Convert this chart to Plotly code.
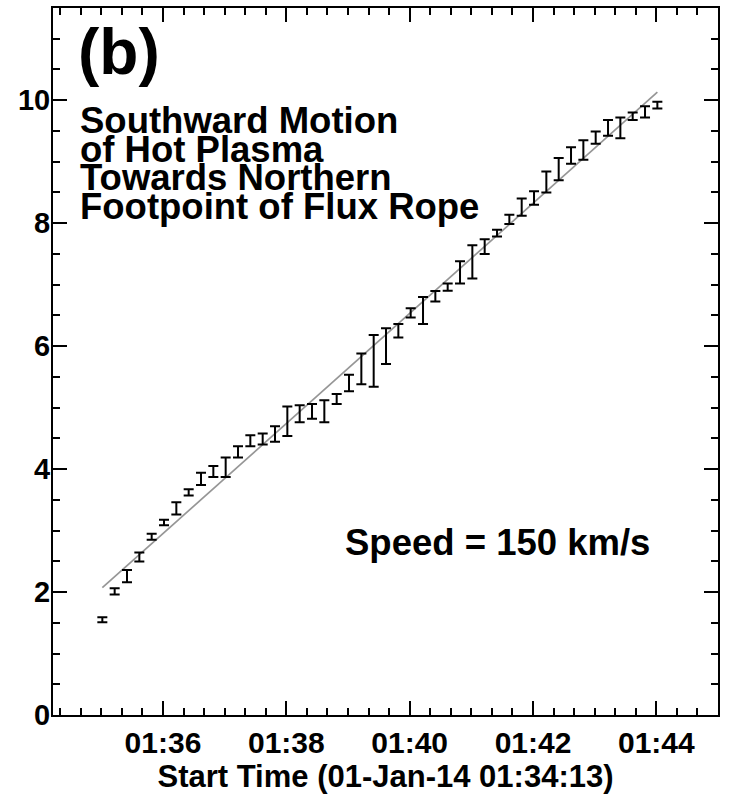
import plotly.graph_objects as go
from datetime import datetime, timedelta

START = datetime(2014, 1, 1, 1, 34, 13)

# seconds after start time (12 s cadence)
t_sec = [48, 60, 72, 84, 96, 108, 120, 132, 144, 156,
         168, 180, 192, 204, 216, 228, 240, 252, 264, 276,
         288, 300, 312, 324, 336, 348, 360, 372, 384, 396,
         408, 420, 432, 444, 456, 468, 480, 492, 504, 516,
         528, 540, 552, 564, 576, 588]
dist = [1.55, 2.01, 2.26, 2.57, 2.90, 3.13, 3.36, 3.62, 3.84, 3.96,
        4.03, 4.28, 4.46, 4.49, 4.57, 4.78, 4.90, 4.94, 4.94, 5.14,
        5.40, 5.63, 5.76, 6.00, 6.25, 6.54, 6.58, 6.81, 6.96, 7.20,
        7.37, 7.62, 7.84, 8.06, 8.26, 8.41, 8.67, 8.88, 9.10, 9.19,
        9.39, 9.55, 9.55, 9.74, 9.81, 9.92]
err = [0.04, 0.05, 0.10, 0.075, 0.05, 0.045, 0.10, 0.05, 0.10, 0.09,
       0.16, 0.09, 0.09, 0.09, 0.125, 0.24, 0.14, 0.12, 0.18, 0.08,
       0.135, 0.25, 0.42, 0.29, 0.11, 0.075, 0.22, 0.085, 0.06, 0.18,
       0.27, 0.12, 0.055, 0.075, 0.14, 0.11, 0.17, 0.18, 0.135, 0.16,
       0.10, 0.13, 0.17, 0.06, 0.09, 0.055]

fit_t = [48, 588]
fit_d = [2.07, 10.13]

x_range_sec = [0, 647]
y_range = [0, 11.5]

def to_time(s):
    return (START + timedelta(seconds=s)).strftime("%Y-%m-%d %H:%M:%S")

FONT = "Liberation Sans, Arial, sans-serif"

fig = go.Figure()
fig.add_trace(go.Scatter(
    x=[to_time(s) for s in fit_t], y=fit_d, mode="lines",
    line=dict(color="#969696", width=1.7), showlegend=False, hoverinfo="skip"))
fig.add_trace(go.Scatter(
    x=[to_time(s) for s in t_sec], y=dist, mode="markers",
    marker=dict(size=1, color="rgba(0,0,0,0)"),
    error_y=dict(type="data", array=err, visible=True, color="black",
                 thickness=2, width=5),
    showlegend=False))

axis_common = dict(
    showgrid=False, zeroline=False, showline=True, linecolor="black", linewidth=2,
    mirror="ticks", ticks="inside", tickcolor="black", tickwidth=2,
    automargin=False,
)

fig.update_xaxes(
    type="date",
    range=[to_time(x_range_sec[0]), to_time(x_range_sec[1])],
    tick0="2014-01-01 01:36:00", dtick=120000, tickformat="%H:%M", ticklen=14,
    minor=dict(dtick=20000, tick0="2014-01-01 01:36:00", ticks="inside",
               ticklen=7, tickcolor="black", tickwidth=2, showgrid=False),
    title=dict(text="Start Time (01-Jan-14 01:34:13)",
               font=dict(family=FONT, size=31, color="black", weight="bold"),
               standoff=0),
    tickfont=dict(family=FONT, size=30, color="black", weight="bold"),
    ticklabelstandoff=0,
    **axis_common)
fig.update_yaxes(
    range=y_range, tick0=0, dtick=2, ticklen=14,
    minor=dict(dtick=0.5, ticks="inside", ticklen=7, tickcolor="black",
               tickwidth=2, showgrid=False),
    tickfont=dict(family=FONT, size=29, color="black", weight="bold"),
    ticklabelstandoff=-5,
    **axis_common)

W, H = 731, 799
L, R, T, B = 53, 13, 8, 84
pw, ph = W - L - R, H - T - B

def px(x):
    return (x - L) / pw

def py(y):
    return (H - B - y) / ph

annots = [
    dict(text="(b)", x=px(76), y=py(52), size=64, xanchor="left"),
    dict(text="Southward Motion", x=px(78), y=py(120), size=36.5, xanchor="left"),
    dict(text="of Hot Plasma", x=px(78), y=py(149), size=36.5, xanchor="left"),
    dict(text="Towards Northern", x=px(78), y=py(178), size=36.5, xanchor="left"),
    dict(text="Footpoint of Flux Rope", x=px(78), y=py(207), size=36.5, xanchor="left"),
    dict(text="Speed = 150 km/s", x=px(652), y=py(542), size=36.5, xanchor="right"),
]
for a in annots:
    fig.add_annotation(
        text=a["text"], x=a["x"], y=a["y"], xref="paper", yref="paper",
        xanchor=a["xanchor"], yanchor="middle", showarrow=False,
        font=dict(family=FONT, size=a["size"], color="black", weight="bold"))

fig.update_layout(
    width=W, height=H, margin=dict(l=L, r=R, t=T, b=B, autoexpand=False),
    paper_bgcolor="white", plot_bgcolor="white",
)

fig.write_html("out.html", config={"displayModeBar": False},
               post_script="document.body.style.margin='0';document.body.style.overflow='hidden';")
